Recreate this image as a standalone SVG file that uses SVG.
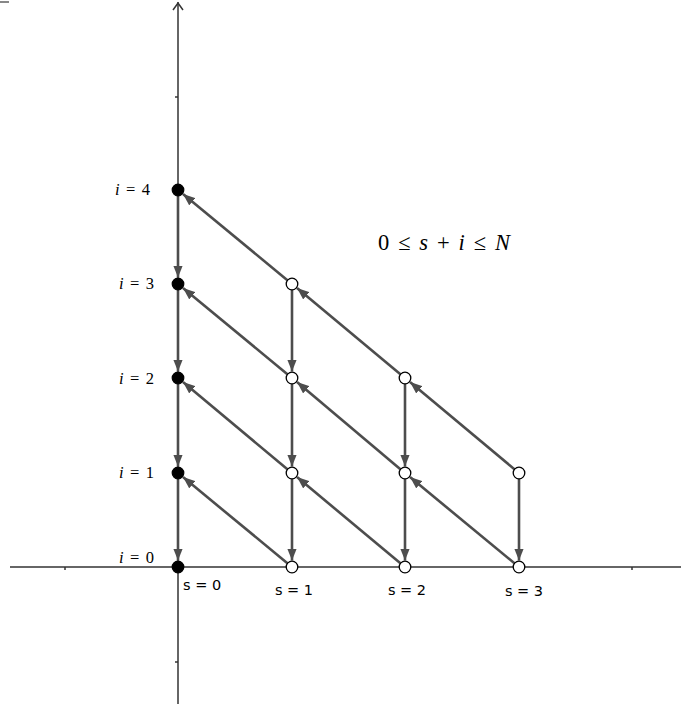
<svg xmlns="http://www.w3.org/2000/svg" width="681" height="704" viewBox="0 0 681 704">
<style>
.axis{stroke:#333;stroke-width:1.5;fill:none}
.arr{stroke:#4d4d4d;stroke-width:2.6;fill:none;marker-end:url(#ah)}
.filled{fill:#000;stroke:#000;stroke-width:1.2}
.open{fill:#fff;stroke:#000;stroke-width:1.3}
.ilab{font-family:"Liberation Serif","DejaVu Serif",serif;font-size:16.5px;fill:#000}
.slab{font-family:"DejaVu Sans","Liberation Sans",sans-serif;font-size:14.5px;fill:#000}
.f{font-family:"Liberation Serif","DejaVu Serif",serif;font-size:22.5px;fill:#000}
</style>
<defs>
<marker id="ah" markerUnits="userSpaceOnUse" markerWidth="13" markerHeight="10" refX="12" refY="4.75" orient="auto">
<path d="M0,0 L12,4.75 L0,9.5 z" fill="#4d4d4d"/>
</marker>
</defs>
<line x1="0" y1="2" x2="9" y2="2" stroke="#888" stroke-width="2"/>
<g id="axes">
<line class="axis" x1="10" y1="567" x2="681" y2="567"/>
<line class="axis" x1="178" y1="2" x2="178" y2="704"/>
<polyline class="axis" points="173,10 178,3 183,10"/>
<line class="axis" x1="65" y1="567" x2="65" y2="570"/>
<line class="axis" x1="632" y1="567" x2="632" y2="570"/>
<line class="axis" x1="175" y1="97" x2="178" y2="97"/>
<line class="axis" x1="175" y1="662" x2="178" y2="662"/>
</g>
<g id="connectors">
<line class="arr" x1="287.4" y1="280.2" x2="183" y2="194.1"/>
<line class="arr" x1="400.4" y1="374.2" x2="297" y2="288.1"/>
<line class="arr" x1="514.4" y1="469.2" x2="410" y2="382.1"/>
<line class="arr" x1="287.4" y1="374.2" x2="183" y2="288.1"/>
<line class="arr" x1="400.4" y1="469.2" x2="297" y2="382.1"/>
<line class="arr" x1="514.4" y1="563.2" x2="410" y2="477.1"/>
<line class="arr" x1="287.4" y1="469.2" x2="183" y2="382.1"/>
<line class="arr" x1="400.4" y1="563.2" x2="297" y2="477.1"/>
<line class="arr" x1="287.4" y1="563.2" x2="183" y2="477.1"/>
<line class="arr" x1="178" y1="196" x2="178" y2="277.5"/>
<line class="arr" x1="178" y1="290" x2="178" y2="371.5"/>
<line class="arr" x1="178" y1="384" x2="178" y2="466.5"/>
<line class="arr" x1="178" y1="479" x2="178" y2="560.5"/>
<line class="arr" x1="292" y1="290" x2="292" y2="371.5"/>
<line class="arr" x1="292" y1="384" x2="292" y2="466.5"/>
<line class="arr" x1="292" y1="479" x2="292" y2="560.5"/>
<line class="arr" x1="405" y1="384" x2="405" y2="466.5"/>
<line class="arr" x1="405" y1="479" x2="405" y2="560.5"/>
<line class="arr" x1="519" y1="479" x2="519" y2="560.5"/>
</g>
<g id="n00"><circle class="filled" cx="178" cy="567" r="5.8"/></g>
<g id="n01"><circle class="filled" cx="178" cy="473" r="5.8"/></g>
<g id="n02"><circle class="filled" cx="178" cy="378" r="5.8"/></g>
<g id="n03"><circle class="filled" cx="178" cy="284" r="5.8"/></g>
<g id="n04"><circle class="filled" cx="178" cy="190" r="5.8"/></g>
<g id="n10"><circle class="open" cx="292" cy="567" r="5.8"/></g>
<g id="n11"><circle class="open" cx="292" cy="473" r="5.8"/></g>
<g id="n12"><circle class="open" cx="292" cy="378" r="5.8"/></g>
<g id="n13"><circle class="open" cx="292" cy="284" r="5.8"/></g>
<g id="n20"><circle class="open" cx="405" cy="567" r="5.8"/></g>
<g id="n21"><circle class="open" cx="405" cy="473" r="5.8"/></g>
<g id="n22"><circle class="open" cx="405" cy="378" r="5.8"/></g>
<g id="n30"><circle class="open" cx="519" cy="567" r="5.8"/></g>
<g id="n31"><circle class="open" cx="519" cy="473" r="5.8"/></g>
<g id="labels">
<text class="ilab" x="115" y="195" textLength="35" lengthAdjust="spacing"><tspan font-style="italic">i</tspan> = 4</text>
<text class="ilab" x="119" y="289" textLength="35" lengthAdjust="spacing"><tspan font-style="italic">i</tspan> = 3</text>
<text class="ilab" x="119" y="384" textLength="35" lengthAdjust="spacing"><tspan font-style="italic">i</tspan> = 2</text>
<text class="ilab" x="119" y="478" textLength="35" lengthAdjust="spacing"><tspan font-style="italic">i</tspan> = 1</text>
<text class="ilab" x="119" y="563" textLength="35" lengthAdjust="spacing"><tspan font-style="italic">i</tspan> = 0</text>
<text class="slab" x="183" y="590">s = 0</text>
<text class="slab" x="294" y="595" text-anchor="middle">s = 1</text>
<text class="slab" x="407" y="595" text-anchor="middle">s = 2</text>
<text class="slab" x="524" y="596" text-anchor="middle">s = 3</text>
<text class="f" x="378" y="250" textLength="132" lengthAdjust="spacing">0 ≤ <tspan font-style="italic">s</tspan> + <tspan font-style="italic">i</tspan> ≤ <tspan font-style="italic">N</tspan></text>
</g>
</svg>
